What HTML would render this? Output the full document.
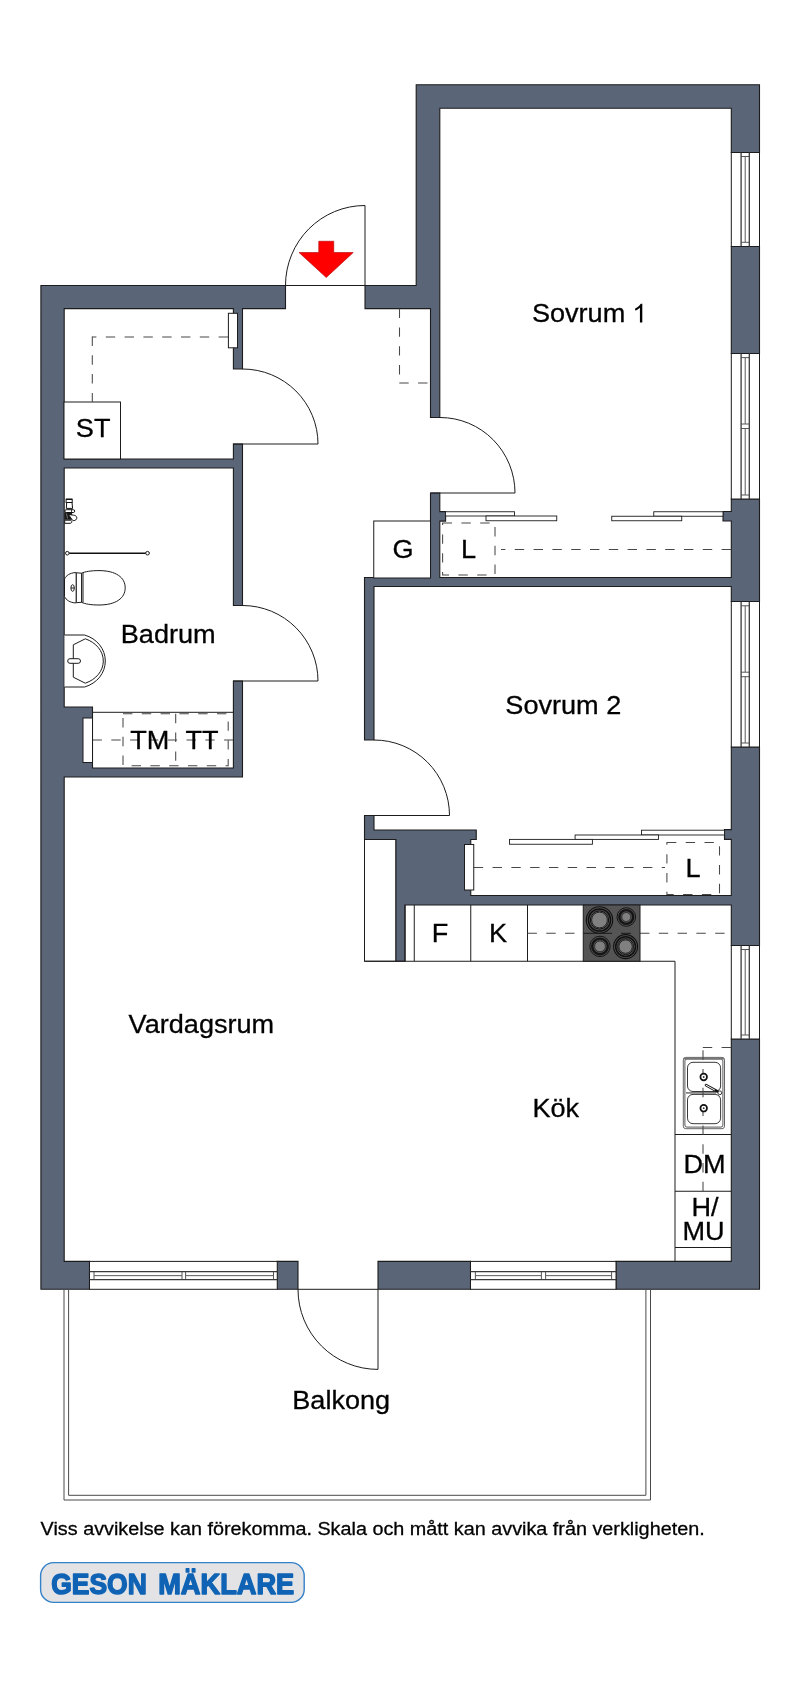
<!DOCTYPE html>
<html><head><meta charset="utf-8"><title>Planritning</title>
<style>html,body{margin:0;padding:0;background:#fff}svg{display:block}text{font-family:"Liberation Sans",sans-serif;fill:#000}</style></head><body>
<svg width="800" height="1688" viewBox="0 0 800 1688">
<rect width="800" height="1688" fill="#fff"/>
<path d="M242.5,369 L242.5,308.6 L285.5,308.6 L285.5,285.5 L40.9,285.5 L40.9,1289.3 L89.5,1289.3 L89.5,1261.4 L64.2,1261.4 L64.2,777 L242.5,777 L242.5,681 L233.4,681 L233.4,768 L92.5,768 L92.5,707 L64.2,707 L64.2,468 L233.4,468 L233.4,605.5 L242.5,605.5 L242.5,444 L233.4,444 L233.4,459 L64.2,459 L64.2,308.6 L233.4,308.6 L233.4,369ZM365,285.5 L365,308.6 L430.5,308.6 L430.5,417.5 L439.8,417.5 L439.8,108.2 L731.3,108.2 L731.3,152.5 L759.5,152.5 L759.5,84.7 L416.2,84.7 L416.2,285.5ZM364.5,577.5 L364.5,740 L374,740 L374,586.5 L731.3,586.5 L731.3,601.5 L759.5,601.5 L759.5,499 L731.3,499 L731.3,511.5 L723,511.5 L723,521 L731.3,521 L731.3,577.5 L439.8,577.5 L439.8,521.1 L445.6,521.1 L445.6,511.6 L439.8,511.6 L439.8,493 L430.5,493 L430.5,577.5ZM364.5,839.5 L395.75,839.5 L395.75,961.25 L405,961.25 L405,905 L731.3,905 L731.3,945.5 L759.5,945.5 L759.5,747 L731.3,747 L731.3,829.6 L724.5,829.6 L724.5,839.4 L731.3,839.4 L731.3,895.5 L470.75,895.5 L470.75,839.5 L476.25,839.5 L476.25,830 L374,830 L374,815.5 L364.5,815.5ZM277.25,1261.4 L277.25,1289.3 L298,1289.3 L298,1261.4ZM378,1261.4 L378,1289.3 L470.5,1289.3 L470.5,1261.4ZM731.3,246.5 L731.3,353.5 L759.5,353.5 L759.5,246.5ZM616,1289.3 L759.5,1289.3 L759.5,1039 L731.3,1039 L731.3,1261.4 L616,1261.4Z" fill="#5b6578" stroke="#1c1c1c" stroke-width="1.1" fill-rule="evenodd" stroke-linejoin="miter"/>
<rect x="731.3" y="152.5" width="28.2" height="94" fill="#fff" stroke="#1c1c1c" stroke-width="1"/>
<line x1="741.1" y1="152.5" x2="741.1" y2="246.5" stroke="#3a3a3a" stroke-width="1.3" fill="none"/>
<line x1="749.3" y1="152.5" x2="749.3" y2="246.5" stroke="#3a3a3a" stroke-width="1.3" fill="none"/>
<line x1="741.1" y1="156.5" x2="749.3" y2="156.5" stroke="#444" stroke-width="0.9" fill="none"/>
<line x1="741.1" y1="242.3" x2="749.3" y2="242.3" stroke="#444" stroke-width="0.9" fill="none"/>
<line x1="745.2" y1="156.5" x2="745.2" y2="242.3" stroke="#5a5a5a" stroke-width="1" fill="none"/>
<rect x="731.3" y="353.5" width="28.2" height="145.5" fill="#fff" stroke="#1c1c1c" stroke-width="1"/>
<line x1="741.1" y1="353.5" x2="741.1" y2="499" stroke="#3a3a3a" stroke-width="1.3" fill="none"/>
<line x1="749.3" y1="353.5" x2="749.3" y2="499" stroke="#3a3a3a" stroke-width="1.3" fill="none"/>
<line x1="741.1" y1="357.6" x2="749.3" y2="357.6" stroke="#444" stroke-width="0.9" fill="none"/>
<line x1="741.1" y1="424" x2="749.3" y2="424" stroke="#444" stroke-width="0.9" fill="none"/>
<line x1="745.2" y1="357.6" x2="745.2" y2="424" stroke="#5a5a5a" stroke-width="1" fill="none"/>
<line x1="741.1" y1="428.5" x2="749.3" y2="428.5" stroke="#444" stroke-width="0.9" fill="none"/>
<line x1="741.1" y1="495" x2="749.3" y2="495" stroke="#444" stroke-width="0.9" fill="none"/>
<line x1="745.2" y1="428.5" x2="745.2" y2="495" stroke="#5a5a5a" stroke-width="1" fill="none"/>
<rect x="731.3" y="601.5" width="28.2" height="145.5" fill="#fff" stroke="#1c1c1c" stroke-width="1"/>
<line x1="741.1" y1="601.5" x2="741.1" y2="747" stroke="#3a3a3a" stroke-width="1.3" fill="none"/>
<line x1="749.3" y1="601.5" x2="749.3" y2="747" stroke="#3a3a3a" stroke-width="1.3" fill="none"/>
<line x1="741.1" y1="605.8" x2="749.3" y2="605.8" stroke="#444" stroke-width="0.9" fill="none"/>
<line x1="741.1" y1="672.2" x2="749.3" y2="672.2" stroke="#444" stroke-width="0.9" fill="none"/>
<line x1="745.2" y1="605.8" x2="745.2" y2="672.2" stroke="#5a5a5a" stroke-width="1" fill="none"/>
<line x1="741.1" y1="676.7" x2="749.3" y2="676.7" stroke="#444" stroke-width="0.9" fill="none"/>
<line x1="741.1" y1="743" x2="749.3" y2="743" stroke="#444" stroke-width="0.9" fill="none"/>
<line x1="745.2" y1="676.7" x2="745.2" y2="743" stroke="#5a5a5a" stroke-width="1" fill="none"/>
<rect x="731.3" y="945.5" width="28.2" height="93.5" fill="#fff" stroke="#1c1c1c" stroke-width="1"/>
<line x1="741.1" y1="945.5" x2="741.1" y2="1039" stroke="#3a3a3a" stroke-width="1.3" fill="none"/>
<line x1="749.3" y1="945.5" x2="749.3" y2="1039" stroke="#3a3a3a" stroke-width="1.3" fill="none"/>
<line x1="741.1" y1="949.5" x2="749.3" y2="949.5" stroke="#444" stroke-width="0.9" fill="none"/>
<line x1="741.1" y1="1035" x2="749.3" y2="1035" stroke="#444" stroke-width="0.9" fill="none"/>
<line x1="745.2" y1="949.5" x2="745.2" y2="1035" stroke="#5a5a5a" stroke-width="1" fill="none"/>
<rect x="89.5" y="1261.4" width="187.75" height="27.9" fill="#fff" stroke="#1c1c1c" stroke-width="1"/>
<line x1="89.5" y1="1271.7" x2="277.25" y2="1271.7" stroke="#3a3a3a" stroke-width="1.3" fill="none"/>
<line x1="89.5" y1="1279.6" x2="277.25" y2="1279.6" stroke="#3a3a3a" stroke-width="1.3" fill="none"/>
<line x1="94" y1="1271.7" x2="94" y2="1279.6" stroke="#444" stroke-width="0.9" fill="none"/>
<line x1="182" y1="1271.7" x2="182" y2="1279.6" stroke="#444" stroke-width="0.9" fill="none"/>
<line x1="94" y1="1275.65" x2="182" y2="1275.65" stroke="#5a5a5a" stroke-width="1" fill="none"/>
<line x1="185.6" y1="1271.7" x2="185.6" y2="1279.6" stroke="#444" stroke-width="0.9" fill="none"/>
<line x1="273.5" y1="1271.7" x2="273.5" y2="1279.6" stroke="#444" stroke-width="0.9" fill="none"/>
<line x1="185.6" y1="1275.65" x2="273.5" y2="1275.65" stroke="#5a5a5a" stroke-width="1" fill="none"/>
<rect x="470.5" y="1261.4" width="145.5" height="27.9" fill="#fff" stroke="#1c1c1c" stroke-width="1"/>
<line x1="470.5" y1="1271.7" x2="616" y2="1271.7" stroke="#3a3a3a" stroke-width="1.3" fill="none"/>
<line x1="470.5" y1="1279.6" x2="616" y2="1279.6" stroke="#3a3a3a" stroke-width="1.3" fill="none"/>
<line x1="475.4" y1="1271.7" x2="475.4" y2="1279.6" stroke="#444" stroke-width="0.9" fill="none"/>
<line x1="541.4" y1="1271.7" x2="541.4" y2="1279.6" stroke="#444" stroke-width="0.9" fill="none"/>
<line x1="475.4" y1="1275.65" x2="541.4" y2="1275.65" stroke="#5a5a5a" stroke-width="1" fill="none"/>
<line x1="545.6" y1="1271.7" x2="545.6" y2="1279.6" stroke="#444" stroke-width="0.9" fill="none"/>
<line x1="611.6" y1="1271.7" x2="611.6" y2="1279.6" stroke="#444" stroke-width="0.9" fill="none"/>
<line x1="545.6" y1="1275.65" x2="611.6" y2="1275.65" stroke="#5a5a5a" stroke-width="1" fill="none"/>
<path d="M285.5,285.5 A79.5,80 0 0 1 365,205.5 L365,285.5 M285.5,285.5 L365,285.5" stroke="#1c1c1c" stroke-width="1" fill="none"/>
<path d="M242.5,369 A75.5,75 0 0 1 318,444 L233,444" stroke="#1c1c1c" stroke-width="1" fill="none"/>
<path d="M440,417.5 A75,75.5 0 0 1 515,493 L430.5,493" stroke="#1c1c1c" stroke-width="1" fill="none"/>
<path d="M242.5,605.5 A75.5,75.5 0 0 1 318,681 L233,681" stroke="#1c1c1c" stroke-width="1" fill="none"/>
<path d="M374,740 A75.5,75.5 0 0 1 449.5,815.5 L374,815.5" stroke="#1c1c1c" stroke-width="1" fill="none"/>
<path d="M298,1289.3 A80,80 0 0 0 378,1369.4 L378,1289.3 M298,1289.3 L378,1289.3" stroke="#1c1c1c" stroke-width="1" fill="none"/>
<path d="M318.75,241.25 L333.75,241.25 L333.75,252.5 L353.25,252.5 L326.25,277.5 L299,252.5 L318.75,252.5Z" fill="#ff0000" stroke="#b00000" stroke-width="0.6"/>
<path d="M64,1289.3 L64,1500 L650.5,1500 L650.5,1289.3 M68.6,1289.3 L68.6,1495.3 L645.9,1495.3 L645.9,1289.3" stroke="#4a4a4a" stroke-width="1" fill="none"/>
<rect x="64" y="402" width="56.5" height="57" fill="#fff" stroke="#1c1c1c" stroke-width="1"/>
<rect x="373.75" y="521" width="56.75" height="57" fill="#fff" stroke="#1c1c1c" stroke-width="1"/>
<rect x="364.5" y="839.5" width="31.25" height="121.75" fill="#fff" stroke="#1c1c1c" stroke-width="1"/>
<path d="M405,905 L405,961.25 M414.25,905 L414.25,961.25 M470.75,905 L470.75,961.25 M527.5,905 L527.5,961.25 M364.5,961.25 L675,961.25 L675,1261.4 M675,1134.5 L731,1134.5 M675,1191.25 L731,1191.25 M675,1247.5 L731,1247.5" stroke="#1c1c1c" stroke-width="1" fill="none"/>
<path d="M228,337 L92.3,337" stroke="#484848" stroke-width="1.05" fill="none" stroke-dasharray="9.4 9.4" stroke-dashoffset="0"/>
<path d="M92.3,336.5 L92.3,402" stroke="#484848" stroke-width="1.05" fill="none" stroke-dasharray="9.4 9.4" stroke-dashoffset="0"/>
<path d="M399.5,308.6 L399.5,375" stroke="#484848" stroke-width="1.05" fill="none" stroke-dasharray="9.4 9.4" stroke-dashoffset="0"/>
<path d="M399.3,382.9 L430.5,382.9" stroke="#484848" stroke-width="1.05" fill="none" stroke-dasharray="9.4 9.4" stroke-dashoffset="0"/>
<path d="M442.6,523 L495,523 L495,575 L442.6,575 Z" stroke="#484848" stroke-width="1.05" fill="none" stroke-dasharray="9.4 9.4" stroke-dashoffset="0"/>
<path d="M731,549.5 L501,549.5" stroke="#484848" stroke-width="1.05" fill="none" stroke-dasharray="9.4 9.4" stroke-dashoffset="0"/>
<path d="M666.9,842.4 L719.5,842.4 L719.5,894.4 L666.9,894.4 Z" stroke="#484848" stroke-width="1.05" fill="none" stroke-dasharray="9.4 9.4" stroke-dashoffset="0"/>
<path d="M473.75,867.5 L665,867.5" stroke="#484848" stroke-width="1.05" fill="none" stroke-dasharray="9.4 9.4" stroke-dashoffset="0"/>
<path d="M123,713.8 L228.2,713.8 L228.2,765.8 L123,765.8 Z" stroke="#484848" stroke-width="1.05" fill="none" stroke-dasharray="9.4 9.4" stroke-dashoffset="0"/>
<path d="M175.7,713.8 L175.7,765.8" stroke="#484848" stroke-width="1.05" fill="none" stroke-dasharray="9.4 9.4" stroke-dashoffset="0"/>
<path d="M92.5,740 L233,740" stroke="#484848" stroke-width="1.05" fill="none" stroke-dasharray="9.4 9.4" stroke-dashoffset="0"/>
<path d="M527.5,933.3 L583,933.3" stroke="#484848" stroke-width="1.05" fill="none" stroke-dasharray="9.4 9.4" stroke-dashoffset="0"/>
<path d="M640,933.3 L731,933.3" stroke="#484848" stroke-width="1.05" fill="none" stroke-dasharray="9.4 9.4" stroke-dashoffset="0"/>
<path d="M731,1047.5 L702.4,1047.5" stroke="#484848" stroke-width="1.05" fill="none" stroke-dasharray="9.4 9.4" stroke-dashoffset="0"/>
<rect x="445.5" y="511.75" width="69" height="4.25" fill="#fff" stroke="#1c1c1c" stroke-width="0.9"/>
<rect x="486" y="516" width="70.75" height="4.75" fill="#fff" stroke="#1c1c1c" stroke-width="0.9"/>
<rect x="653.75" y="511.75" width="69.25" height="4.5" fill="#fff" stroke="#1c1c1c" stroke-width="0.9"/>
<rect x="611.75" y="516.25" width="70" height="4.5" fill="#fff" stroke="#1c1c1c" stroke-width="0.9"/>
<rect x="641.5" y="830.2" width="83" height="4.8" fill="#fff" stroke="#1c1c1c" stroke-width="0.9"/>
<rect x="575.1" y="835" width="83.4" height="4.4" fill="#fff" stroke="#1c1c1c" stroke-width="0.9"/>
<rect x="509.5" y="839.4" width="82.9" height="4.85" fill="#fff" stroke="#1c1c1c" stroke-width="0.9"/>
<rect x="228.4" y="313.3" width="9.1" height="34.5" fill="#fff" stroke="#1c1c1c" stroke-width="1"/>
<line x1="92.5" y1="712.3" x2="233" y2="712.3" stroke="#1c1c1c" stroke-width="1" fill="none"/>
<rect x="83" y="718" width="9.5" height="44.5" fill="#fff" stroke="#1c1c1c" stroke-width="1"/>
<rect x="464.5" y="844.5" width="9.25" height="45.5" fill="#fff" stroke="#1c1c1c" stroke-width="1"/>
<line x1="67.5" y1="553.2" x2="149.5" y2="553.2" stroke="#111" stroke-width="1.5"/>
<circle cx="67.3" cy="553.2" r="1.8" fill="#fff" stroke="#1c1c1c" stroke-width="1"/><circle cx="147.5" cy="553.2" r="1.8" fill="#fff" stroke="#1c1c1c" stroke-width="1"/>
<g fill="#fff" stroke="#111" stroke-width="1"><rect x="66.1" y="499.3" width="6.1" height="3.2"/><path d="M66,499.3 L72.3,499.3" stroke-width="1.4"/><path d="M66.7,502.5 L72,502.5 L72.6,508.4 L66.3,508.4Z"/><rect x="64.8" y="509.7" width="9.9" height="2.8" rx="1.4"/><path d="M71.5,509.7 L71.5,512.5" stroke-width="0.8"/><rect x="64.8" y="512.8" width="7" height="6.6" fill="#1a1a1a" stroke="#111" stroke-width="0.6"/><path d="M66.5,513.5 L67.5,518.5" stroke="#999" stroke-width="0.7"/><path d="M68.4,514.4 L73.5,515.2 C77.3,515.4 77.4,518.6 75.8,519.9 C74.6,520.9 73,520.8 72.2,519.9 Z"/><path d="M64.7,520.2 L70,520.2 C72.4,520.2 72.4,523.3 70,523.3 L64.7,523.3 Z"/></g>
<g fill="#fff" stroke="#1c1c1c" stroke-width="1"><path d="M64.5,579 C66,575.5 70,573 75,572.6 L76.3,572.8 L76.3,602.7 L75,602.9 C70,602.5 66,600 64.5,596.5Z"/><path d="M76.3,572.8 L81.6,573.2 L81.6,602.3 L76.3,602.7Z"/><path d="M81.6,573.2 C85,571.6 91,570.6 99,570.6 C116,570.6 125.2,577.5 125.2,587.8 C125.2,598.1 116,605 99,605 C91,605 85,604 81.6,602.3Z"/><path d="M83,573 L83,602.5" fill="none"/><ellipse cx="72.6" cy="588" rx="1.7" ry="3.3"/><path d="M71,588 L74.2,588" fill="none"/></g>
<g fill="#fff" stroke="#1c1c1c" stroke-width="1"><path d="M64.5,635 L84.5,635 C97,638.5 105.3,649 105.3,661 C105.3,673 97,683.5 84.5,687 L64.5,687"/><path d="M85.3,638.8 C96,642.5 103.3,651 103.3,661 C103.3,671 96,679.5 85.3,683.2 L73.3,677.2 L73.3,644.8Z"/><rect x="67.7" y="658.7" width="12.8" height="4.6" rx="2.3"/></g>
<rect x="583.25" y="905" width="56.75" height="56.25" fill="#555" stroke="#1c1c1c" stroke-width="1"/>
<circle cx="599.5" cy="920" r="13.2" fill="#555" stroke="#111" stroke-width="1.1"/><circle cx="599.5" cy="920" r="11.1" fill="#555" stroke="#111" stroke-width="1.5"/><circle cx="599.5" cy="920" r="9.1" fill="#727272" stroke="#111" stroke-width="1"/><circle cx="599.5" cy="920" r="7.8999999999999995" fill="#808080" stroke="#1c1c1c" stroke-width="0.9"/>
<circle cx="626.3" cy="917" r="9.3" fill="#555" stroke="#151515" stroke-width="1"/><circle cx="626.3" cy="917" r="6.9" fill="#555" stroke="#151515" stroke-width="2.4"/><circle cx="626.3" cy="917" r="4.500000000000001" fill="#808080" stroke="#222" stroke-width="0.8"/>
<circle cx="600" cy="946.4" r="10.2" fill="#555" stroke="#151515" stroke-width="1"/><circle cx="600" cy="946.4" r="7.799999999999999" fill="#555" stroke="#151515" stroke-width="2.4"/><circle cx="600" cy="946.4" r="5.3999999999999995" fill="#808080" stroke="#222" stroke-width="0.8"/>
<circle cx="625.6" cy="946.6" r="12" fill="#555" stroke="#111" stroke-width="1.1"/><circle cx="625.6" cy="946.6" r="9.9" fill="#555" stroke="#111" stroke-width="1.5"/><circle cx="625.6" cy="946.6" r="7.9" fill="#727272" stroke="#111" stroke-width="1"/><circle cx="625.6" cy="946.6" r="6.7" fill="#808080" stroke="#1c1c1c" stroke-width="0.9"/>
<path d="M583.5,933.3 L612,933.3 M621,933.3 L631,933.3" stroke="#1a1a1a" stroke-width="1" fill="none"/>
<g fill="#fff" stroke="#333" stroke-width="0.9"><rect x="683.3" y="1057.4" width="41.2" height="71.3" rx="2.5" stroke="#555"/><rect x="684.9" y="1059" width="38" height="68.1" rx="2" stroke="#444"/><rect x="687.5" y="1062.3" width="33.1" height="29.2" rx="5.5" stroke="#222"/><rect x="687.5" y="1094.4" width="33.1" height="29.3" rx="5.5" stroke="#222"/></g>
<path d="M683.5,1058.6 L724,1058.6" stroke="#777" stroke-width="1.8" fill="none"/>
<path d="M686,1092.9 L716,1092.9" stroke="#777" stroke-width="1.6" fill="none"/>
<path d="M703,1191.25 L703,1047.5" stroke="#484848" stroke-width="1.05" fill="none" stroke-dasharray="9.4 9.4" stroke-dashoffset="0"/>
<circle cx="703.7" cy="1077" r="3.3" fill="#fff" stroke="#111" stroke-width="1.7"/><circle cx="703.7" cy="1077" r="0.9" fill="#333"/>
<circle cx="703.7" cy="1108.2" r="3.3" fill="#fff" stroke="#111" stroke-width="1.7"/><circle cx="703.7" cy="1108.2" r="0.9" fill="#333"/>
<path d="M706,1085.2 L717.5,1091.5" stroke="#111" stroke-width="2.6" stroke-linecap="round" fill="none"/><path d="M706,1085.2 L714.5,1089.9" stroke="#fff" stroke-width="1" stroke-linecap="round" fill="none"/><circle cx="719.8" cy="1092.8" r="1.9" fill="#fff" stroke="#222" stroke-width="0.9"/>
<!--FIXTURES-->
<g opacity="0.999" stroke="#000" stroke-width="0.3">
<text transform="translate(531.9,322.4) scale(1.043,1)" font-size="26" text-anchor="start" >Sovrum</text>
<path transform="translate(632.2,322.4) scale(0.013241,-0.012695)" d="M763 0H583V1147Q518 1085 412.5 1023T223 930V1104Q373 1174.5 485.5 1275T644 1470H763Z" fill="#000"/>
<text transform="translate(505.3,713.75) scale(1.043,1)" font-size="26" text-anchor="start" >Sovrum 2</text>
<text transform="translate(120.75,643.3) scale(1.043,1)" font-size="26" text-anchor="start" >Badrum</text>
<text transform="translate(128.6,1032.6) scale(1.043,1)" font-size="26" text-anchor="start" >Vardagsrum</text>
<text transform="translate(532.4,1116.9) scale(1.043,1)" font-size="26" text-anchor="start" >Kök</text>
<text transform="translate(292.25,1408.5) scale(1.043,1)" font-size="26" text-anchor="start" >Balkong</text>
<text transform="translate(93.15,437.4) scale(1.043,1)" font-size="26" text-anchor="middle" >ST</text>
<text transform="translate(403,558) scale(1.043,1)" font-size="26" text-anchor="middle" >G</text>
<text transform="translate(468.5,558) scale(1.043,1)" font-size="26" text-anchor="middle" >L</text>
<text transform="translate(693,876.5) scale(1.043,1)" font-size="26" text-anchor="middle" >L</text>
<text transform="translate(440,942) scale(1.043,1)" font-size="26" text-anchor="middle" >F</text>
<text transform="translate(498,942) scale(1.043,1)" font-size="26" text-anchor="middle" >K</text>
<text transform="translate(149.7,749) scale(1.043,1)" font-size="26" text-anchor="middle" >TM</text>
<text transform="translate(202,749) scale(1.043,1)" font-size="26" text-anchor="middle" >TT</text>
<text transform="translate(704.5,1173) scale(1.043,1)" font-size="26" text-anchor="middle" >DM</text>
<text transform="translate(705,1216.3) scale(1.043,1)" font-size="26" text-anchor="middle" >H/</text>
<text transform="translate(703.5,1240) scale(1.043,1)" font-size="26" text-anchor="middle" >MU</text>
<text transform="translate(40.6,1535) scale(1.048,1)" font-size="18.9" text-anchor="start" >Viss avvikelse kan förekomma. Skala och mått kan avvika från verkligheten.</text>
<rect x="40.6" y="1562.6" width="263.6" height="39.8" rx="13" ry="13" fill="#e3e3e6" stroke="#3381c9" stroke-width="1.4"/>
<g font-size="29.3" font-weight="bold" style="fill:#1063b4;stroke:#1063b4;stroke-width:1.5px;stroke-linejoin:round"><text x="51.2" y="1593.8" textLength="95.6" lengthAdjust="spacingAndGlyphs" style="fill:#1063b4">GESON</text><text x="158.2" y="1593.8" textLength="136" lengthAdjust="spacingAndGlyphs" style="fill:#1063b4">MÄKLARE</text></g>
</g>
<!--TEXT-->
</svg></body></html>
